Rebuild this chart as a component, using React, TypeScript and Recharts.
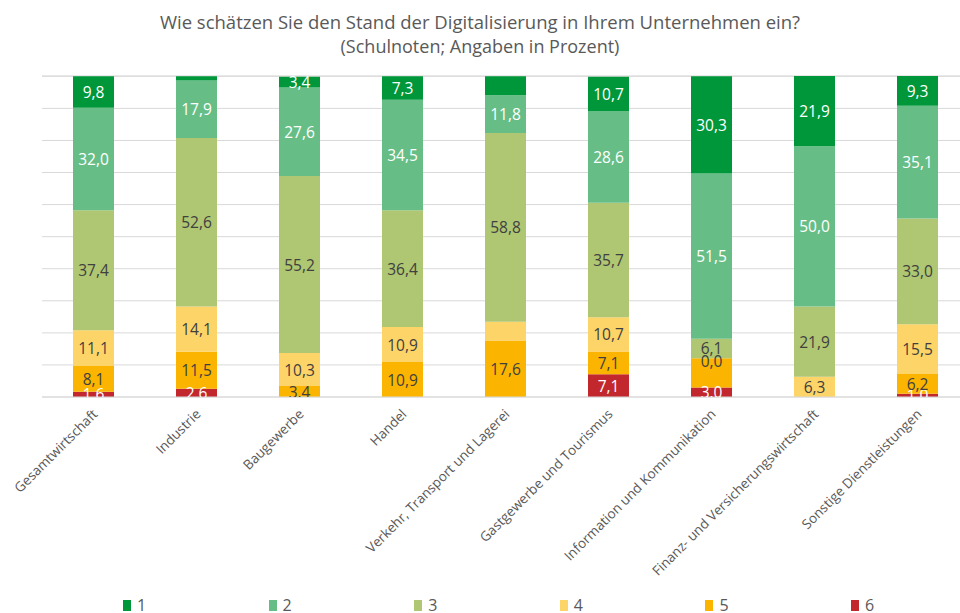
import React from 'react';
import { BarChart, Bar, XAxis, YAxis, CartesianGrid, LabelList } from 'recharts';

const categories = [
  'Gesamtwirtschaft',
  'Industrie',
  'Baugewerbe',
  'Handel',
  'Verkehr, Transport und Lagerei',
  'Gastgewerbe und Tourismus',
  'Information und Kommunikation',
  'Finanz- und Versicherungswirtschaft',
  'Sonstige Dienstleistungen',
];

// Schulnoten 1..6, Angaben in Prozent (null = kein Wert)
const note1 = [9.8, 1.3, 3.4, 7.3, 5.9, 10.7, 30.3, 21.9, 9.3];
const note2 = [32.0, 17.9, 27.6, 34.5, 11.8, 28.6, 51.5, 50.0, 35.1];
const note3 = [37.4, 52.6, 55.2, 36.4, 58.8, 35.7, 6.1, 21.9, 33.0];
const note4 = [11.1, 14.1, 10.3, 10.9, 5.9, 10.7, 0.0, 6.3, 15.5];
const note5 = [8.1, 11.5, 3.4, 10.9, 17.6, 7.1, 9.1, null, 6.2];
const note6 = [1.6, 2.6, null, null, null, 7.1, 3.0, null, 1.0];

// segments whose label is not shown in the original
const hiddenLabels = ['n1-1', 'n1-4', 'n4-4', 'n5-6'];

const seriesKeys = ['n1', 'n2', 'n3', 'n4', 'n5', 'n6'];
const seriesNames = ['1', '2', '3', '4', '5', '6'];
const seriesValues = [note1, note2, note3, note4, note5, note6];
const colors = ['#00973a', '#66be86', '#afc672', '#fdd468', '#fbb400', '#c1272d'];
const labelColors = ['#ffffff', '#ffffff', '#404040', '#404040', '#404040', '#ffffff'];

const data = categories.map((name, i) => {
  const row: Record<string, any> = { name };
  seriesKeys.forEach((k, s) => {
    row[k] = seriesValues[s][i];
  });
  return row;
});

const W = 970;
const H = 613;
const TOP = 76;
const LEFT = 42;
const PLOT_BOTTOM = 397;
const AXIS_H = 150;
const FONT = "'Open Sans', sans-serif";

const fmt = (v: number) => v.toFixed(1).replace('.', ',');

const labelText = (x: number, y: number, color: string, text: string, key?: string) => (
  <text
    key={key}
    x={x}
    y={y}
    textAnchor="middle"
    dominantBaseline="central"
    fill={color}
    fontSize={15.5}
    fontFamily={FONT}
    clipPath="url(#plotClip)"
  >
    {text}
  </text>
);

const makeLabel = (s: number) => (props: any) => {
  const { x, y, width, height, value, index } = props;
  if (value === null || value === undefined) return null;
  const parts = [];
  if (!hiddenLabels.includes(`${seriesKeys[s]}-${index}`)) {
    parts.push(labelText(x + width / 2, y + height / 2, labelColors[s], fmt(Number(value)), 'own'));
  }
  // zero-height segment of the series stacked above: its label sits on this segment's top edge
  if (s > 0 && seriesValues[s - 1][index] === 0) {
    parts.push(labelText(x + width / 2, y + 3, labelColors[s - 1], fmt(0), 'zero'));
  }
  return <g>{parts}</g>;
};

const CategoryTick = (props: any) => {
  const { x, y, payload } = props;
  const tx = x + 5;
  const ty = y + 10;
  return (
    <text
      x={tx}
      y={ty}
      transform={`rotate(-45, ${tx}, ${ty})`}
      textAnchor="end"
      fill="#595959"
      fontSize={13.5}
      fontFamily={FONT}
    >
      {payload.value}
    </text>
  );
};

const App = () => {
  return (
    <div style={{ position: 'absolute', left: 0, top: 0, width: 960, height: H, overflow: 'hidden', background: '#fff' }}>
      <div
        style={{
          position: 'absolute',
          top: 10,
          left: 0,
          width: 960,
          textAlign: 'center',
          fontFamily: FONT,
          color: '#595959',
          lineHeight: '24px',
        }}
      >
        <div style={{ fontSize: 18.5 }}>
          Wie schätzen Sie den Stand der Digitalisierung in Ihrem Unternehmen ein?
        </div>
        <div style={{ fontSize: 18 }}>(Schulnoten; Angaben in Prozent)</div>
      </div>
      <BarChart
        width={W}
        height={H}
        data={data}
        margin={{ top: TOP, left: LEFT, right: 1, bottom: H - PLOT_BOTTOM - AXIS_H }}
        barSize={41}
      >
        <defs>
          <clipPath id="plotClip">
            <rect x={LEFT} y={TOP} width={W - LEFT} height={PLOT_BOTTOM - TOP} />
          </clipPath>
        </defs>
        <CartesianGrid vertical={false} stroke="#d9d9d9" />
        <XAxis
          dataKey="name"
          height={AXIS_H}
          interval={0}
          tick={<CategoryTick />}
          tickLine={false}
          axisLine={{ stroke: '#d9d9d9' }}
        />
        <YAxis hide domain={[0, 100]} ticks={[0, 10, 20, 30, 40, 50, 60, 70, 80, 90, 100]} />
        {[5, 4, 3, 2, 1, 0].map((s) => (
          <Bar
            key={seriesKeys[s]}
            dataKey={seriesKeys[s]}
            name={seriesNames[s]}
            stackId="a"
            fill={colors[s]}
            isAnimationActive={false}
          >
            <LabelList dataKey={seriesKeys[s]} content={makeLabel(s)} />
          </Bar>
        ))}
      </BarChart>
      <div style={{ position: 'absolute', top: 594, left: 0, width: 960, height: 20 }}>
        {seriesNames.map((n, s) => (
          <div
            key={n}
            style={{
              position: 'absolute',
              left: 123 + s * 145.6,
              top: 0,
              display: 'flex',
              alignItems: 'center',
              fontFamily: FONT,
              fontSize: 16,
              color: '#595959',
            }}
          >
            <span style={{ display: 'inline-block', width: 8, height: 11, background: colors[s], marginRight: 6 }} />
            {n}
          </div>
        ))}
      </div>
    </div>
  );
};

export default App;
